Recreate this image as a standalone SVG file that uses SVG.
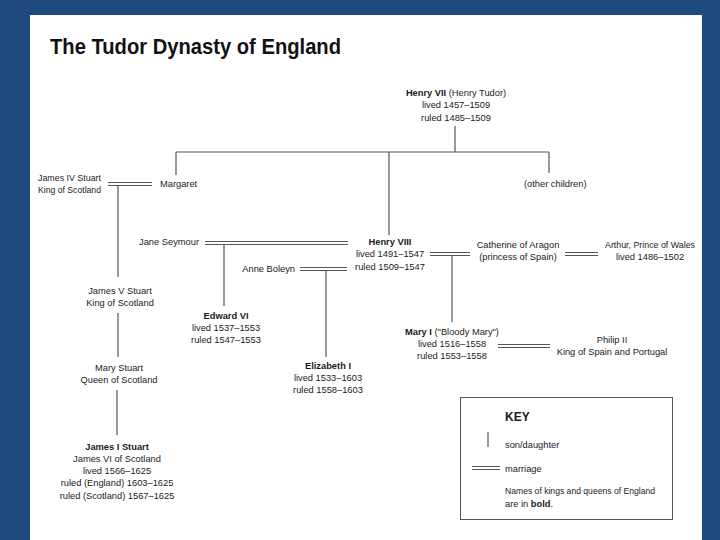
<svg xmlns="http://www.w3.org/2000/svg" width="720" height="540" viewBox="0 0 720 540">
<style>
text{font-family:"Liberation Sans",Arial,sans-serif;font-size:9.3px;fill:#1a1a1a}
.c{text-anchor:middle}
.e{text-anchor:end}
.b{font-weight:bold}
.title{font-size:22px;font-weight:bold;fill:#111}
.ln{stroke:#555;stroke-width:1.2;fill:none}
.m{stroke:#555;stroke-width:1;fill:none}
</style>
<rect x="0" y="0" width="720" height="540" fill="#1f4a7e"/>
<rect x="30" y="15" width="672" height="525" fill="#ffffff"/>
<text class="title" x="50" y="54" textLength="291" lengthAdjust="spacingAndGlyphs">The Tudor Dynasty of England</text>

<g id="connectors">
<path class="ln" d="M455 126V152M176 152H549M176 152V175M389 152V235M549 152V173"/>
<path class="m" d="M108 182.5H152M108 185.5H152"/>
<path class="ln" d="M118 185V277M118 313V357M117 390V435"/>
<path class="m" d="M205 241.5H348M205 244.5H348"/>
<path class="ln" d="M224 244V306"/>
<path class="m" d="M300 267.5H347M300 270.5H347"/>
<path class="ln" d="M326 270V357"/>
<path class="m" d="M430 252.5H470M430 255.5H470"/>
<path class="ln" d="M452 255V322"/>
<path class="m" d="M565 252.5H598M565 255.5H598"/>
<path class="m" d="M498 344.5H550M498 347.5H550"/>
</g>

<g id="henry7">
<text class="c" x="456" y="96"><tspan class="b">Henry VII</tspan> (Henry Tudor)</text>
<text class="c" x="456" y="108">lived 1457–1509</text>
<text class="c" x="456" y="121">ruled 1485–1509</text>
</g>
<g id="margaret"><text x="160" y="187">Margaret</text></g>
<g id="other"><text x="524" y="187">(other children)</text></g>
<g id="james4">
<text x="38" y="181" textLength="63" lengthAdjust="spacingAndGlyphs">James IV Stuart</text>
<text x="38" y="193" textLength="63" lengthAdjust="spacingAndGlyphs">King of Scotland</text>
</g>
<g id="james5">
<text class="c" x="120" y="294">James V Stuart</text>
<text class="c" x="120" y="306">King of Scotland</text>
</g>
<g id="marystuart">
<text class="c" x="119" y="371">Mary Stuart</text>
<text class="c" x="119" y="383">Queen of Scotland</text>
</g>
<g id="james1">
<text class="c b" x="117" y="450">James I Stuart</text>
<text class="c" x="117" y="462">James VI of Scotland</text>
<text class="c" x="117" y="474">lived 1566–1625</text>
<text class="c" x="117" y="486">ruled (England) 1603–1625</text>
<text class="c" x="117" y="499">ruled (Scotland) 1567–1625</text>
</g>
<g id="janeseymour"><text class="e" x="199" y="245">Jane Seymour</text></g>
<g id="edward6">
<text class="c b" x="226" y="319">Edward VI</text>
<text class="c" x="226" y="331">lived 1537–1553</text>
<text class="c" x="226" y="343">ruled 1547–1553</text>
</g>
<g id="anneboleyn"><text class="e" x="295" y="272">Anne Boleyn</text></g>
<g id="elizabeth1">
<text class="c b" x="328" y="369">Elizabeth I</text>
<text class="c" x="328" y="381">lived 1533–1603</text>
<text class="c" x="328" y="393">ruled 1558–1603</text>
</g>
<g id="henry8">
<text class="c b" x="390" y="245">Henry VIII</text>
<text class="c" x="390" y="257">lived 1491–1547</text>
<text class="c" x="390" y="270">ruled 1509–1547</text>
</g>
<g id="catherine">
<text class="c" x="518" y="248">Catherine of Aragon</text>
<text class="c" x="518" y="260">(princess of Spain)</text>
</g>
<g id="arthur">
<text class="c" x="650" y="248" textLength="90" lengthAdjust="spacingAndGlyphs">Arthur, Prince of Wales</text>
<text class="c" x="650" y="260">lived 1486–1502</text>
</g>
<g id="mary1">
<text class="c" x="452" y="335"><tspan class="b">Mary I</tspan> ("Bloody Mary")</text>
<text class="c" x="452" y="347">lived 1516–1558</text>
<text class="c" x="452" y="359">ruled 1553–1558</text>
</g>
<g id="philip2">
<text class="c" x="612" y="343">Philip II</text>
<text class="c" x="612" y="355">King of Spain and Portugal</text>
</g>
<g id="key">
<rect x="460.5" y="397.5" width="212" height="122" fill="#fff" stroke="#555" stroke-width="1"/>
<text class="b" x="505" y="421" style="font-size:12px">KEY</text>
<path class="ln" d="M488 432V447"/>
<text x="505" y="448">son/daughter</text>
<path class="m" d="M472 466.5H500M472 469.5H500"/>
<text x="505" y="472">marriage</text>
<text x="505" y="494" textLength="150" lengthAdjust="spacingAndGlyphs">Names of kings and queens of England</text>
<text x="505" y="507">are in <tspan class="b">bold</tspan>.</text>
</g>
</svg>
